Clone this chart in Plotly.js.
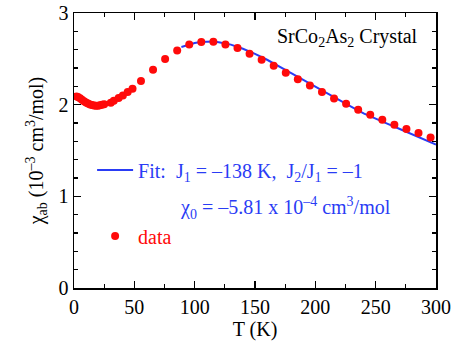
<!DOCTYPE html>
<html>
<head>
<meta charset="utf-8">
<script src="https://cdn.plot.ly/plotly-3.0.1.min.js"></script>
<style>
  html, body { margin: 0; padding: 0; background: #fff; }
  #plot { width: 457px; height: 345px; }
</style>
</head>
<body>
<div id="plot"></div>
<script>
const dataT = [2, 3.3, 5, 6.6, 8.3, 9.9, 11.6, 13.3, 14.9, 16.6, 18.2, 19.9, 21.5, 23.2, 25,
  30.5, 33, 37, 40.5, 44.5, 48.5,
  55.5, 65.5, 75.5, 85.5, 95.5, 105.5, 115.5, 125.5, 135.5, 145.5, 155.5, 165.5, 175.5,
  185.5, 195.5, 205.5, 215.5, 225.5, 235.5, 245.5, 255.5, 265.5, 275.5, 285.5, 295.5];
const dataChi = [2.09, 2.085, 2.07, 2.054, 2.038, 2.025, 2.013, 2.003, 1.996, 1.99, 1.988, 1.989, 1.993, 1.998, 2.005,
  2.02, 2.043, 2.073, 2.101, 2.138, 2.174,
  2.258, 2.381, 2.498, 2.592, 2.657, 2.684, 2.685, 2.657, 2.618, 2.556, 2.49, 2.425, 2.349,
  2.276, 2.209, 2.138, 2.068, 2.01, 1.945, 1.89, 1.836, 1.781, 1.734, 1.691, 1.643];

// J1-J2 fit curve
const fitT = [89, 95, 100, 105, 110, 115, 120, 130, 140, 150, 160, 170, 180, 190, 200,
  210, 220, 230, 240, 250, 260, 270, 280, 290, 300];
const fitChi = [2.63, 2.655, 2.672, 2.684, 2.69, 2.689, 2.68, 2.655, 2.61, 2.555, 2.49, 2.42, 2.345, 2.27, 2.195,
  2.12, 2.045, 1.975, 1.905, 1.845, 1.79, 1.735, 1.68, 1.62, 1.565];

const serif = 'Liberation Serif';
const blue = '#2a3cf5';
const red = '#ff0a0a';
const sp = '\u00a0';

const traces = [{
  x: fitT, y: fitChi,
  mode: 'lines', type: 'scatter',
  line: { color: blue, width: 2 },
  legendgroup: 'fit',
  name: '<span style="color:' + blue + '">Fit:' + sp + sp + 'J<sub>1</sub> = –138 K,' + sp + sp +
    'J<sub>2</sub>/J<sub>1</sub> = –1</span>'
}, {
  x: dataT, y: dataChi,
  mode: 'markers', type: 'scatter',
  marker: { color: red, size: 8 },
  legendgroup: 'data',
  name: '<span style="color:' + red + '">data</span>'
}];

const axisCommon = {
  showline: true, linecolor: '#000', linewidth: 1.5,
  mirror: 'allticks', ticks: 'inside', ticklen: 7, tickwidth: 1.2, tickcolor: '#000',
  showgrid: false, zeroline: false,
  tickfont: { family: serif, size: 20, color: '#000' }
};

const layout = {
  width: 457, height: 345,
  margin: { l: 74, r: 21, t: 13, b: 57 },
  paper_bgcolor: '#fff', plot_bgcolor: '#fff',
  font: { family: serif, color: '#000' },
  xaxis: Object.assign({}, axisCommon, {
    range: [0, 300], dtick: 50, tick0: 0,
    minor: { dtick: 25, ticks: 'inside', ticklen: 4, tickcolor: '#000' },
    title: { text: 'T (K)', font: { family: serif, size: 20 }, standoff: 4 }
  }),
  yaxis: Object.assign({}, axisCommon, {
    range: [0, 3], dtick: 1, tick0: 0,
    minor: { dtick: 0.2, ticks: 'inside', ticklen: 4, tickcolor: '#000' },
    title: { text: 'χ<sub>ab</sub> (10<sup>–3</sup> cm<sup>3</sup>/mol)', font: { family: serif, size: 20 }, standoff: 9 }
  }),
  showlegend: true,
  legend: {
    x: 0.05, y: 0.5, xanchor: 'left', yanchor: 'top',
    bgcolor: 'rgba(0,0,0,0)', borderwidth: 0,
    font: { family: serif, size: 20 },
    itemwidth: 36,
    valign: 'middle', tracegroupgap: 37
  },
  annotations: [{
    text: 'SrCo<sub>2</sub>As<sub>2</sub> Crystal',
    xref: 'paper', yref: 'paper', x: 0.956, y: 0.91,
    xanchor: 'right', yanchor: 'middle', showarrow: false,
    font: { family: serif, size: 20, color: '#000' }
  }, {
    text: 'χ<sub>0</sub> = –5.81 x 10<sup>–4</sup> cm<sup>3</sup>/mol',
    xref: 'paper', yref: 'paper', x: 0.287, y: 0.29,
    xanchor: 'left', yanchor: 'middle', showarrow: false,
    font: { family: serif, size: 20, color: blue }
  }]
};

Plotly.newPlot('plot', traces, layout, { staticPlot: true, displayModeBar: false });
</script>
</body>
</html>
